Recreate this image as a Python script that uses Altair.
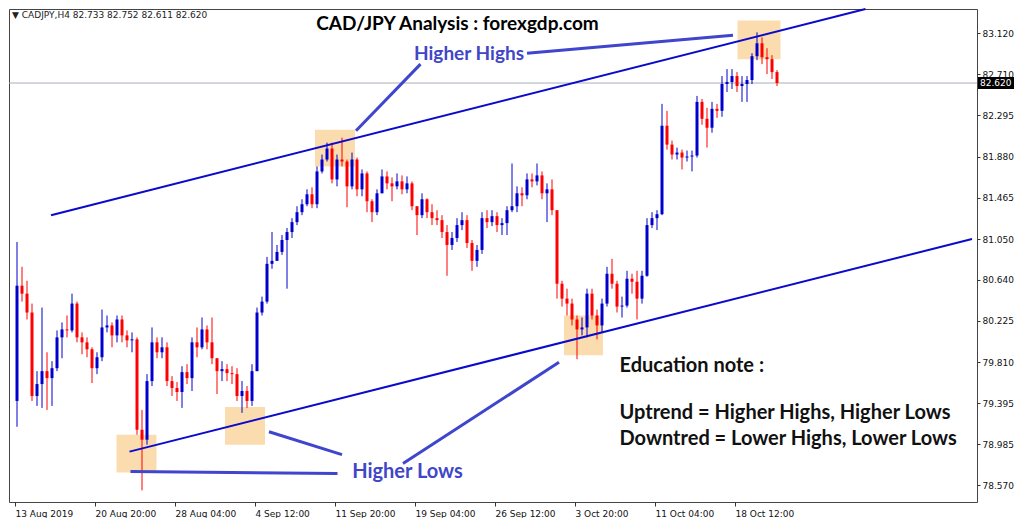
import altair as alt
import pandas as pd

# ---------------- data (CAD/JPY H4, one candle = two H4 bars) ----------------
first_open = 79.42
close = [80.58, 80.50, 80.31, 79.47, 79.59, 79.72, 79.65, 79.75, 80.06, 80.14,
         80.13, 80.40, 80.06, 80.01, 79.94, 79.75, 79.86, 80.16, 80.18, 80.08,
         80.24, 80.08, 80.03, 80.04, 79.13, 79.03, 79.62, 80.01, 79.91, 79.96,
         79.62, 79.55, 79.51, 79.71, 79.65, 80.01, 79.96, 80.14, 80.01, 79.85,
         79.72, 79.74, 79.70, 79.69, 79.47, 79.52, 79.42, 79.72, 80.31, 80.42,
         80.80, 80.83, 80.92, 81.04, 81.12, 81.22, 81.32, 81.40, 81.50, 81.40,
         81.73, 81.85, 81.96, 81.65, 81.85, 81.83, 81.58, 81.85, 81.55, 81.71,
         81.43, 81.32, 81.51, 81.68, 81.61, 81.58, 81.63, 81.55, 81.61, 81.38,
         81.29, 81.45, 81.32, 81.26, 81.24, 81.12, 80.99, 81.06, 81.19, 81.24,
         81.01, 80.83, 80.94, 81.26, 81.22, 81.28, 81.19, 81.21, 81.34, 81.38,
         81.51, 81.49, 81.65, 81.63, 81.69, 81.51, 81.55, 81.34, 80.60, 80.45,
         80.40, 80.24, 80.14, 80.16, 80.50, 80.28, 80.18, 80.40, 80.70, 80.60,
         80.37, 80.38, 80.65, 80.62, 80.45, 80.68, 81.19, 81.26, 81.30, 82.19,
         82.00, 81.90, 81.92, 81.87, 81.88, 81.89, 82.43, 82.26, 82.17, 82.36,
         82.34, 82.61, 82.63, 82.69, 82.59, 82.61, 82.65, 82.89, 83.02, 82.88,
         82.86, 82.73, 82.62]
high = [81.02, 80.77, 80.63, 80.40, 79.72, 80.36, 79.91, 79.82, 80.13, 80.21,
        80.28, 80.50, 80.42, 80.11, 80.06, 79.96, 79.91, 80.34, 80.28, 80.21,
        80.28, 80.28, 80.13, 80.11, 80.06, 79.33, 79.69, 80.16, 80.06, 80.06,
        80.01, 79.67, 79.61, 79.77, 79.79, 80.06, 80.16, 80.26, 80.18, 80.26,
        79.85, 79.82, 79.79, 79.77, 79.75, 79.62, 79.57, 79.79, 80.36, 80.47,
        80.87, 81.12, 80.99, 81.09, 81.16, 81.26, 81.38, 81.45, 81.55, 81.57,
        81.78, 81.90, 82.02, 82.02, 81.90, 82.07, 81.85, 81.92, 81.87, 81.75,
        81.73, 81.45, 81.55, 81.75, 81.73, 81.67, 81.71, 81.69, 81.68, 81.63,
        81.38, 81.51, 81.46, 81.40, 81.34, 81.29, 81.19, 81.12, 81.26, 81.32,
        81.29, 81.04, 80.99, 81.32, 81.34, 81.34, 81.32, 81.26, 81.38, 81.81,
        81.58, 81.57, 81.71, 81.71, 81.81, 81.73, 81.61, 81.65, 81.34, 80.63,
        80.55, 80.45, 80.28, 80.26, 80.55, 80.55, 80.34, 80.45, 80.77, 80.85,
        80.63, 80.47, 80.73, 80.70, 80.73, 80.73, 81.26, 81.32, 81.34, 82.41,
        82.34, 82.04, 81.97, 81.95, 81.94, 81.94, 82.49, 82.46, 82.37, 82.43,
        82.41, 82.69, 82.76, 82.76, 82.73, 82.69, 82.69, 82.92, 83.13, 83.08,
        82.97, 82.90, 82.75]
low = [79.16, 80.42, 80.24, 79.42, 79.37, 79.35, 79.33, 79.37, 79.72, 79.85,
       80.06, 80.11, 80.01, 79.89, 79.86, 79.60, 79.69, 79.82, 80.11, 79.96,
       80.01, 80.01, 79.96, 79.91, 79.08, 78.52, 78.98, 79.57, 79.85, 79.85,
       79.57, 79.47, 79.42, 79.35, 79.59, 79.52, 79.86, 79.94, 79.94, 79.79,
       79.49, 79.62, 79.62, 79.59, 79.42, 79.30, 79.35, 79.37, 79.72, 80.28,
       80.40, 80.75, 80.83, 80.89, 80.55, 81.06, 81.19, 81.29, 81.38, 81.36,
       81.36, 81.71, 81.83, 81.61, 81.58, 81.78, 81.37, 81.55, 81.48, 81.48,
       81.32, 81.22, 81.29, 81.51, 81.55, 81.43, 81.55, 81.50, 81.51, 81.34,
       81.09, 81.26, 81.26, 81.19, 81.19, 81.06, 80.68, 80.94, 81.02, 81.14,
       80.96, 80.73, 80.77, 80.90, 81.16, 81.18, 81.12, 81.09, 81.09, 81.32,
       81.32, 81.38, 81.45, 81.57, 81.59, 81.45, 81.22, 81.29, 80.45, 80.37,
       80.28, 80.18, 79.84, 80.08, 80.06, 80.24, 80.04, 80.11, 80.37, 80.55,
       80.31, 80.26, 80.36, 80.50, 80.24, 80.40, 80.67, 81.16, 81.14, 81.29,
       81.95, 81.85, 81.85, 81.75, 81.83, 81.73, 81.87, 82.20, 81.97, 82.12,
       82.27, 82.28, 82.53, 82.56, 82.53, 82.43, 82.43, 82.61, 82.85, 82.81,
       82.71, 82.66, 82.59]

last_price = 82.62

x_tick_pos = [-0.4, 15.6, 31.6, 47.6, 63.6, 79.6, 95.6, 111.6, 127.6, 143.6]
x_tick_labels = ["13 Aug 2019", "20 Aug 20:00", "28 Aug 04:00", "4 Sep 12:00",
                 "11 Sep 20:00", "19 Sep 04:00", "26 Sep 12:00", "3 Oct 20:00",
                 "11 Oct 04:00", "18 Oct 12:00"]
price_ticks = [78.570, 78.985, 79.395, 79.810, 80.225, 80.640, 81.050, 81.465,
               81.880, 82.295, 82.710, 83.120]

# channel lines (candle index, price)
trend_x1 = [6.8, 22.5]
trend_p1 = [81.29, 78.91]
trend_x2 = [169.7, 191.0]
trend_p2 = [83.365, 81.05]

# pointer lines
ptr_x1 = [102.0, 67.8, 22.7, 50.4, 77.2]
ptr_p1 = [82.92, 82.14, 78.71, 79.11, 78.79]
ptr_x2 = [143.2, 80.7, 64.1, 65.0, 108.4]
ptr_p2 = [83.10, 82.81, 78.69, 78.88, 79.81]

# highlight boxes
box_x1 = [19.9, 41.6, 59.6, 109.4, 144.1]
box_x2 = [27.9, 49.6, 67.6, 117.2, 152.7]
box_p1 = [79.08, 79.36, 82.15, 80.28, 83.25]
box_p2 = [78.70, 78.98, 81.78, 79.88, 82.86]

# ---------------- tables ----------------
n = len(close)
opens = [first_open] + close[:-1]
candles = pd.DataFrame({
    "k": list(range(n)),
    "open": opens, "high": high, "low": low, "close": close,
})
candles["dir"] = ["up" if c >= o else "down" for o, c in zip(opens, close)]

trend = pd.DataFrame({"x1": trend_x1, "p1": trend_p1, "x2": trend_x2, "p2": trend_p2})
ptr = pd.DataFrame({"x1": ptr_x1, "p1": ptr_p1, "x2": ptr_x2, "p2": ptr_p2})
boxes = pd.DataFrame({"x1": box_x1, "x2": box_x2, "p1": box_p1, "p2": box_p2})

XMIN, XMAX = -0.6, 191.0
YMIN, YMAX = 78.403, 83.365
xs = alt.Scale(domain=[XMIN, XMAX], nice=False, zero=False)
ys = alt.Scale(domain=[YMIN, YMAX], nice=False, zero=False)

label_arr = "[" + ",".join("'" + s + "'" for s in x_tick_labels) + "]"
x_axis = alt.Axis(values=x_tick_pos, labelExpr=label_arr + "[round((datum.value + 0.4) / 16)]",
                  grid=False, domain=False, tickSize=4, tickColor="#333", labelAlign="left",
                  labelPadding=3, labelFont="DejaVu Sans", labelFontSize=9, labelColor="#111",
                  labelOverlap=False, labelFlush=False, title=None)
y_axis = alt.Axis(orient="right", values=price_ticks, format=".3f", grid=False, domain=False,
                  tickSize=3, tickColor="#333", labelPadding=2, labelFont="DejaVu Sans",
                  labelFontSize=9, labelColor="#111", labelOverlap=False, title=None)

color = alt.Color("dir:N", scale=alt.Scale(domain=["up", "down"], range=["#0000CC", "#FF0000"]),
                  legend=None)

box_layer = alt.Chart(boxes).mark_rect(color="#FBD8A5", opacity=0.9).encode(
    x=alt.X("x1:Q", scale=xs, axis=x_axis), x2="x2:Q",
    y=alt.Y("p1:Q", scale=ys, axis=y_axis), y2="p2:Q")

wicks = alt.Chart(candles).mark_rule(strokeWidth=1).encode(
    x=alt.X("k:Q", scale=xs), y=alt.Y("low:Q", scale=ys), y2="high:Q", color=color)

bodies = alt.Chart(candles).mark_bar(size=3).encode(
    x=alt.X("k:Q", scale=xs), y=alt.Y("open:Q", scale=ys), y2="close:Q", color=color)

price_line = alt.Chart().mark_rule(color="#A8B0B8", strokeWidth=1).encode(
    y=alt.datum(last_price))

trend_layer = alt.Chart(trend).mark_rule(color="#0A0ACC", strokeWidth=2).encode(
    x="x1:Q", y="p1:Q", x2="x2:Q", y2="p2:Q")

ptr_layer = alt.Chart(ptr).mark_rule(color="#3F45CC", strokeWidth=3).encode(
    x="x1:Q", y="p1:Q", x2="x2:Q", y2="p2:Q")

FONT = "Lato"


def label(txt, k, p, size, color, weight="bold", align="center"):
    return alt.Chart().mark_text(text=txt, font=FONT, fontSize=size, fontWeight=weight,
                                 color=color, align=align, baseline="middle").encode(
        x=alt.datum(k), y=alt.datum(p))


texts = [
    label("CAD/JPY Analysis : forexgdp.com", 88.1, 83.21, 19, "#000"),
    label("Higher Highs", 90.4, 82.914, 19, "#4046C8"),
    label("Higher Lows", 78.1, 78.707, 20, "#4046C8"),
    label("Education note :", 120.5, 79.77, 20, "#111", "bold", "left"),
    label("Uptrend = Higher Highs, Higher Lows", 120.5, 79.30, 20, "#111", "bold", "left"),
    label("Downtred = Lower Highs, Lower Lows", 120.5, 79.04, 20, "#111", "bold", "left"),
]

info = alt.Chart().mark_text(text="\u25BC CADJPY,H4  82.733 82.752 82.611 82.620",
                             font="DejaVu Sans", fontSize=9, color="#222", align="left",
                             baseline="middle").encode(x=alt.value(3), y=alt.value(6))

W, H = 968, 493
tag_box = alt.Chart().mark_rect(color="#000").encode(
    x=alt.value(W + 1), x2=alt.value(W + 37),
    y=alt.datum(last_price + 0.06), y2=alt.datum(last_price - 0.06))
tag_text = alt.Chart().mark_text(text="82.620", font="DejaVu Sans", fontSize=9, color="#fff",
                                 align="left", baseline="middle").encode(
    x=alt.value(W + 3), y=alt.datum(last_price))

chart = alt.layer(box_layer, price_line, wicks, bodies, trend_layer, ptr_layer, *texts,
                  info, tag_box, tag_text).properties(
    width=W, height=H, padding={"left": 0, "top": 0, "right": 0, "bottom": 0},
    background="white",
).configure_view(stroke="#444", strokeWidth=1)

chart.save("out.html", embed_options={"renderer": "svg", "actions": False})
